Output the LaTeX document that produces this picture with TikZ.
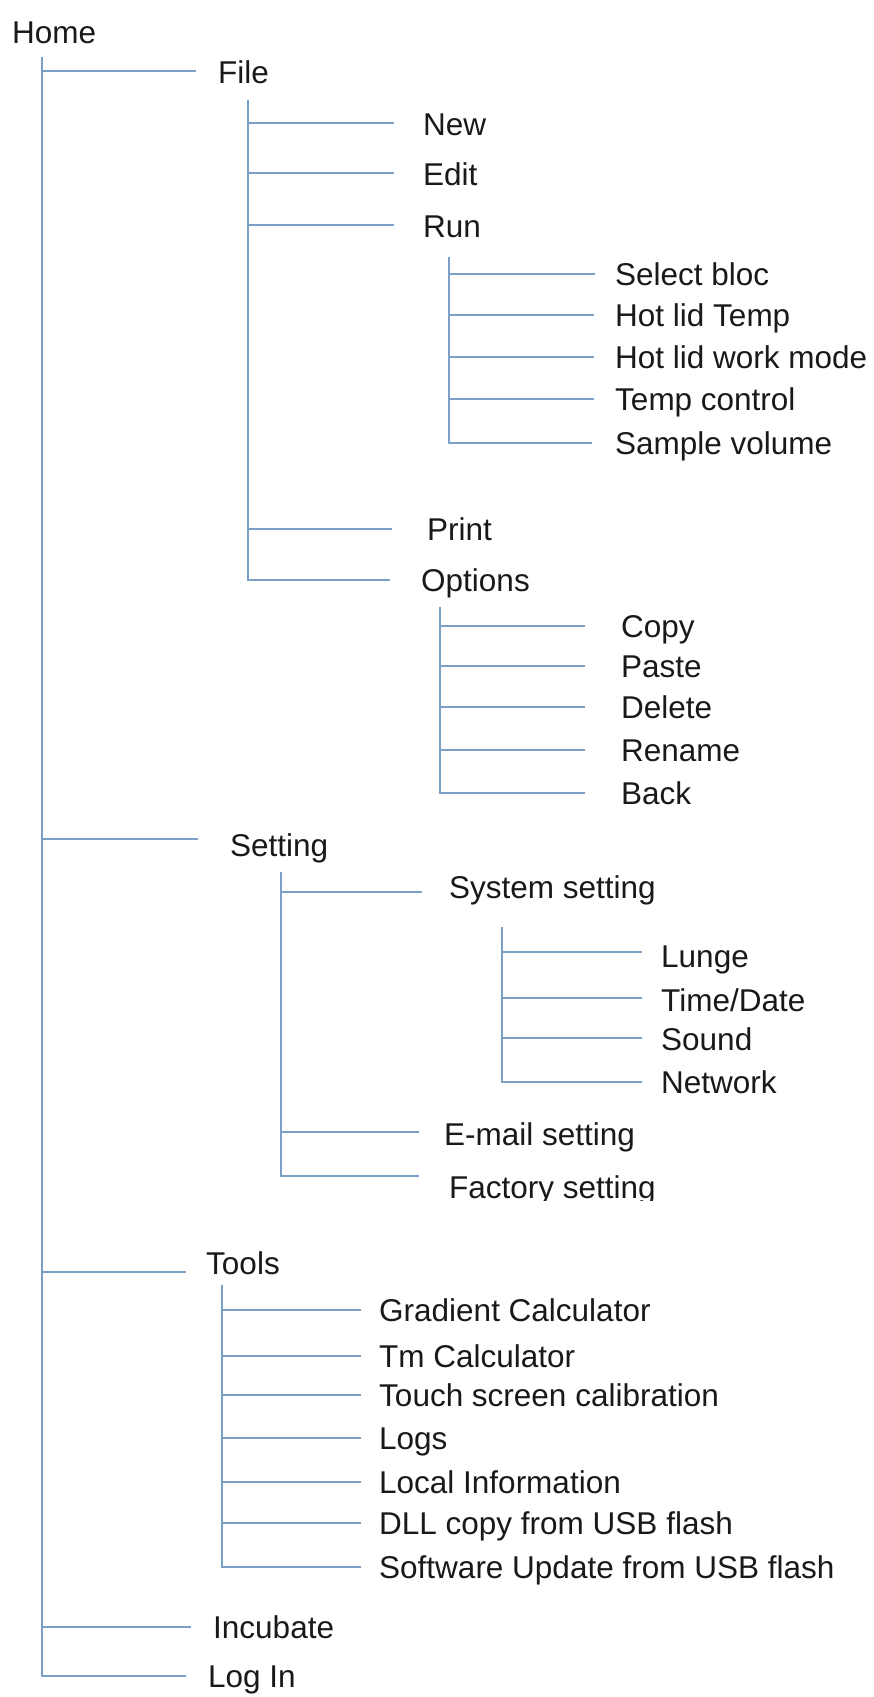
\documentclass[tikz,border=0pt]{standalone}
\usepackage{fontspec}
\setmainfont{Liberation Sans}
\definecolor{treeline}{RGB}{122,160,200}
\definecolor{labeltext}{RGB}{25,25,25}
\begin{document}
\begin{tikzpicture}[x=1pt,y=-1pt,
  link/.style={draw=treeline,line width=1.8pt},
  item/.style={anchor=west,inner sep=0pt,text height=22pt,text depth=0pt,
    text=labeltext,font=\fontsize{31.5}{36}\selectfont}]
\useasboundingbox (0,0) rectangle (874,1697);

% ---------- labels ----------
\node[item] (home) at (12,32) {Home};
\node[item] (file) at (218,72) {File};
\node[item] (new) at (423,124) {New};
\node[item] (edit) at (423,174) {Edit};
\node[item] (run) at (423,226) {Run};
\node[item] (selbloc) at (615,274) {Select bloc};
\node[item] (lidtemp) at (615,315) {Hot lid Temp};
\node[item] (lidmode) at (615,357) {Hot lid work mode};
\node[item] (tempctl) at (615,399) {Temp control};
\node[item] (sampvol) at (615,443) {Sample volume};
\node[item] (print) at (427,529) {Print};
\node[item] (options) at (421,580) {Options};
\node[item] (copy) at (621,626) {Copy};
\node[item] (paste) at (621,666) {Paste};
\node[item] (delete) at (621,707) {Delete};
\node[item] (rename) at (621,750) {Rename};
\node[item] (back) at (621,793) {Back};
\node[item] (setting) at (230,845) {Setting};
\node[item] (syset) at (449,887) {System setting};
\node[item] (lunge) at (661,956) {Lunge};
\node[item] (timedate) at (661,1000) {Time/Date};
\node[item] (sound) at (661,1039) {Sound};
\node[item] (network) at (661,1082) {Network};
\node[item] (email) at (444,1134) {E-mail setting};
\begin{scope}
  \clip (440,1160) rectangle (700,1200);
  \node[item] (factory) at (449,1187) {Factory setting};
\end{scope}
\node[item] (tools) at (206,1263) {Tools};
\node[item] (gradcalc) at (379,1310) {Gradient Calculator};
\node[item] (tmcalc) at (379,1356) {Tm Calculator};
\node[item] (touch) at (379,1395) {Touch screen calibration};
\node[item] (logs) at (379,1438) {Logs};
\node[item] (localinfo) at (379,1482) {Local Information};
\node[item] (dllcopy) at (379,1523) {DLL copy from USB flash};
\node[item] (swupdate) at (379,1567) {Software Update from USB flash};
\node[item] (incubate) at (213,1627) {Incubate};
\node[item] (login) at (208,1676) {Log In};

% ---------- bus tops ----------
\coordinate (homeBus) at (42,57);
\coordinate (fileBus) at (248,100);
\coordinate (runBus) at (449,257);
\coordinate (optBus) at (440,607);
\coordinate (setBus) at (281,872);
\coordinate (sysBus) at (502,927);
\coordinate (toolBus) at (222,1285);

% ---------- branch ends ----------
\coordinate (eFile) at (196,71);
\coordinate (eSetting) at (198,839);
\coordinate (eTools) at (186,1272);
\coordinate (eIncubate) at (191,1627);
\coordinate (eLogin) at (186,1676);

\coordinate (eNew) at (394,123);
\coordinate (eEdit) at (394,173);
\coordinate (eRun) at (394,225);
\coordinate (ePrint) at (392,529);
\coordinate (eOptions) at (390,580);

\coordinate (eSel) at (595,274);
\coordinate (eLidT) at (594,315);
\coordinate (eLidM) at (594,357);
\coordinate (eTemp) at (594,399);
\coordinate (eSamp) at (592,443);

\coordinate (eCopy) at (585,626);
\coordinate (ePaste) at (585,666);
\coordinate (eDelete) at (585,707);
\coordinate (eRename) at (585,750);
\coordinate (eBack) at (585,793);

\coordinate (eSys) at (422,892);
\coordinate (eEmail) at (419,1132);
\coordinate (eFactory) at (419,1176);

\coordinate (eLunge) at (642,952);
\coordinate (eTime) at (642,998);
\coordinate (eSound) at (642,1038);
\coordinate (eNet) at (642,1082);

\coordinate (eGrad) at (361,1310);
\coordinate (eTm) at (361,1356);
\coordinate (eTouch) at (361,1395);
\coordinate (eLogs) at (361,1438);
\coordinate (eLocal) at (361,1482);
\coordinate (eDll) at (361,1523);
\coordinate (eSw) at (361,1567);

% ---------- connectors ----------
% Home
\draw[link] (homeBus) |- (eLogin);
\foreach \e in {eFile,eSetting,eTools,eIncubate}
  \draw[link] (homeBus |- \e) -- (\e);
% File
\draw[link] (fileBus) |- (eOptions);
\foreach \e in {eNew,eEdit,eRun,ePrint}
  \draw[link] (fileBus |- \e) -- (\e);
% Run
\draw[link] (runBus) |- (eSamp);
\foreach \e in {eSel,eLidT,eLidM,eTemp}
  \draw[link] (runBus |- \e) -- (\e);
% Options
\draw[link] (optBus) |- (eBack);
\foreach \e in {eCopy,ePaste,eDelete,eRename}
  \draw[link] (optBus |- \e) -- (\e);
% Setting
\draw[link] (setBus) |- (eFactory);
\foreach \e in {eSys,eEmail}
  \draw[link] (setBus |- \e) -- (\e);
% System setting
\draw[link] (sysBus) |- (eNet);
\foreach \e in {eLunge,eTime,eSound}
  \draw[link] (sysBus |- \e) -- (\e);
% Tools
\draw[link] (toolBus) |- (eSw);
\foreach \e in {eGrad,eTm,eTouch,eLogs,eLocal,eDll}
  \draw[link] (toolBus |- \e) -- (\e);
\end{tikzpicture}
\end{document}
